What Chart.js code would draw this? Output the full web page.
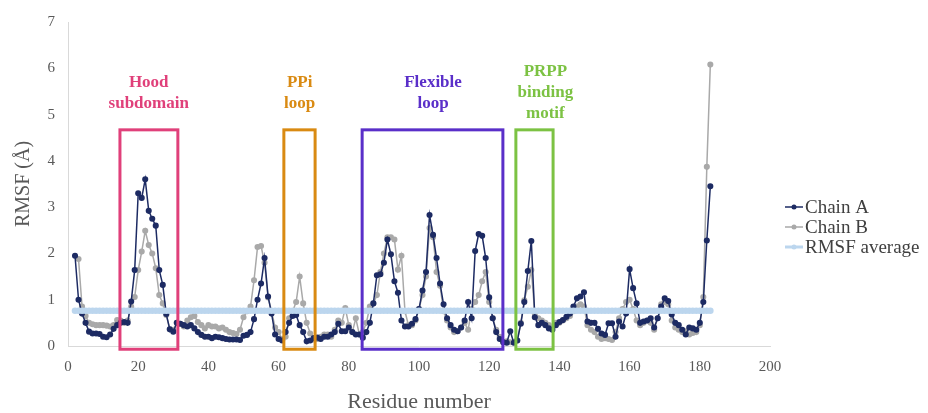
<!DOCTYPE html>
<html>
<head>
<meta charset="utf-8">
<script src="https://cdn.jsdelivr.net/npm/chart.js@4.4.1/dist/chart.umd.min.js"></script>
<style>
  html, body { margin: 0; padding: 0; background: #fff; }
</style>
</head>
<body>
<canvas id="rmsf" width="928" height="413"></canvas>
<script>
// residue numbering of the first value in each chain array
const firstResidue = 2;

// RMSF (Å) per residue, residues 2..183
const chainA = [
  1.95, 1.0, 0.7, 0.5, 0.31, 0.27, 0.27, 0.26, 0.2, 0.19,
  0.25, 0.37, 0.45, 0.5, 0.52, 0.5, 0.96, 1.64, 3.3, 3.2,
  3.6, 2.92, 2.75, 2.6, 1.64, 1.32, 0.69, 0.36, 0.31, 0.5,
  0.48, 0.45, 0.42, 0.45, 0.38, 0.3, 0.24, 0.2, 0.2, 0.17,
  0.2, 0.19, 0.17, 0.15, 0.14, 0.14, 0.14, 0.13, 0.22, 0.24,
  0.3, 0.58, 1.0, 1.35, 1.9, 1.07, 0.7, 0.25, 0.15, 0.12,
  0.3, 0.5, 0.65, 0.67, 0.45, 0.3, 0.1, 0.12, 0.17, 0.18,
  0.15, 0.2, 0.2, 0.25, 0.3, 0.48, 0.32, 0.32, 0.4, 0.3,
  0.25, 0.25, 0.18, 0.3, 0.5, 0.92, 1.53, 1.55, 1.8, 2.3,
  1.98, 1.4, 1.15, 0.55, 0.42, 0.42, 0.48, 0.58, 0.8, 1.2,
  1.6, 2.83, 2.4, 1.9, 1.35, 0.9, 0.6, 0.45, 0.35, 0.32,
  0.4, 0.55, 0.95, 0.6, 2.05, 2.42, 2.38, 1.9, 1.05, 0.6,
  0.3, 0.15, 0.08, 0.07, 0.32, 0.07, 0.12, 0.48, 0.95, 1.62,
  2.27, 0.62, 0.45, 0.5, 0.45, 0.38, 0.35, 0.45, 0.52, 0.56,
  0.63, 0.7, 0.85, 1.03, 1.07, 1.16, 0.53, 0.5, 0.5, 0.37,
  0.27, 0.24, 0.49, 0.49, 0.2, 0.53, 0.42, 0.7, 1.66, 1.25,
  0.92, 0.5, 0.53, 0.55, 0.6, 0.4, 0.6, 0.85, 1.03, 0.97,
  0.68, 0.5, 0.45, 0.35, 0.25, 0.4, 0.38, 0.35, 0.5, 0.95,
  2.28, 3.45
];

const chainB = [
  null, 1.88, 0.85, 0.65, 0.5, 0.47, 0.45, 0.45, 0.45, 0.44,
  0.42, 0.45, 0.56, 0.55, 0.5, 0.55, 0.85, 1.06, 1.64, 2.04,
  2.49, 2.18, 2.0, 1.68, 1.1, 0.92, 0.67, 0.36, 0.35, 0.5,
  0.48, 0.42, 0.55, 0.62, 0.65, 0.52, 0.45, 0.38, 0.45, 0.42,
  0.42, 0.38, 0.4, 0.35, 0.3, 0.28, 0.26, 0.35, 0.62, 0.75,
  0.85, 1.42, 2.14, 2.16, 1.8, 1.05, 0.75, 0.4, 0.3, 0.15,
  0.2, 0.6, 0.75, 0.95, 1.5, 0.92, 0.5, 0.27, 0.14, 0.15,
  0.2, 0.25, 0.25, 0.2, 0.35, 0.55, 0.5, 0.82, 0.45, 0.3,
  0.6, 0.25, 0.3, 0.5, 0.85, 0.92, 1.1, 1.6, 2.0, 2.35,
  2.35, 2.3, 1.65, 1.95, 0.75, 0.45, 0.45, 0.55, 0.8, 1.1,
  1.5, 2.55, 2.35, 1.6, 1.3, 0.75, 0.55, 0.4, 0.3, 0.32,
  0.4, 0.5, 0.35, 0.8, 0.95, 1.1, 1.4, 1.6, 0.95, 0.6,
  0.35, 0.2, 0.08, 0.1, 0.08, 0.08, 0.12, 0.5, 0.99, 1.28,
  1.64, 0.7, 0.6, 0.55, 0.5, 0.45, 0.4, 0.5, 0.5, 0.55,
  0.6, 0.65, 0.75, 0.85, 0.9, 0.85, 0.45, 0.35, 0.3, 0.2,
  0.15, 0.17, 0.15, 0.13, 0.3, 0.6, 0.8, 0.95, 1.0, 0.8,
  0.55, 0.45, 0.5, 0.55, 0.5, 0.35, 0.6, 0.9, 0.95, 0.9,
  0.55, 0.4, 0.35, 0.3, 0.32, 0.25, 0.28, 0.3, 0.45, 1.06,
  3.87, 6.08
];

const rmsfAverage = 0.76;

// highlighted regions (residue ranges) and their captions
const regionLabels = [['Hood', 'subdomain'], ['PPi', 'loop'], ['Flexible', 'loop'], ['PRPP', 'binding', 'motif']];
const regionStart = [14.8, 61.5, 83.8, 127.6];
const regionEnd = [31.3, 70.4, 123.9, 138.2];
const regionTop = 4.67;

const regionColors = ['#e0407a', '#d98a12', '#5a2fc9', '#7cc243'];
const captionX = [23, 66, 104, 136];
const captionY = [5.70, 5.70, 5.70, 5.92];

const serif = '"Liberation Serif", "Times New Roman", serif';

const toPoints = arr => arr.map((v, i) => ({ x: firstResidue + i, y: v }));

const regionsPlugin = {
  id: 'regions',
  afterDatasetsDraw(chart) {
    const { ctx, scales: { x, y } } = chart;
    ctx.save();
    ctx.lineWidth = 3;
    regionStart.forEach((start, i) => {
      const left = x.getPixelForValue(start);
      const right = x.getPixelForValue(regionEnd[i]);
      const top = y.getPixelForValue(regionTop);
      const bottom = y.getPixelForValue(-0.07);
      ctx.strokeStyle = regionColors[i];
      ctx.strokeRect(left, top, right - left, bottom - top);

      ctx.fillStyle = regionColors[i];
      ctx.font = 'bold 17px ' + serif;
      ctx.textAlign = 'center';
      ctx.textBaseline = 'middle';
      const cx = x.getPixelForValue(captionX[i]);
      const cy = y.getPixelForValue(captionY[i]);
      regionLabels[i].forEach((line, j) => ctx.fillText(line, cx, cy + j * 21));
    });
    ctx.restore();
  }
};

const legendPlugin = {
  id: 'sideLegend',
  afterDraw(chart) {
    const { ctx } = chart;
    ctx.save();
    chart.data.datasets.forEach((ds, i) => {
      const yc = 207 + i * 20;
      ctx.strokeStyle = ds.borderColor;
      ctx.lineWidth = ds.borderWidth;
      ctx.beginPath();
      ctx.moveTo(785, yc);
      ctx.lineTo(803, yc);
      ctx.stroke();
      ctx.fillStyle = ds.pointBackgroundColor;
      ctx.beginPath();
      ctx.arc(794, yc, 2.5, 0, Math.PI * 2);
      ctx.fill();
      ctx.fillStyle = '#404040';
      ctx.font = '19px ' + serif;
      ctx.textAlign = 'left';
      ctx.textBaseline = 'middle';
      ctx.fillText(ds.label, 805, yc + 1);
    });
    ctx.restore();
  }
};

new Chart(document.getElementById('rmsf'), {
  type: 'line',
  data: {
    datasets: [
      {
        label: 'Chain A',
        data: toPoints(chainA),
        borderColor: '#1d2b63',
        pointBackgroundColor: '#1d2b63',
        pointBorderColor: '#1d2b63',
        borderWidth: 1.5,
        pointRadius: 2.3,
        order: 1,
      },
      {
        label: 'Chain B',
        data: toPoints(chainB),
        borderColor: '#a9a9a9',
        pointBackgroundColor: '#a9a9a9',
        pointBorderColor: '#a9a9a9',
        borderWidth: 1.5,
        pointRadius: 2.3,
        order: 2,
      },
      {
        label: 'RMSF average',
        data: toPoints(chainA.map(() => rmsfAverage)),
        borderColor: '#bcd6ee',
        pointBackgroundColor: '#bcd6ee',
        pointBorderColor: '#bcd6ee',
        borderWidth: 3,
        pointRadius: 1.8,
        order: 0,
      },
    ],
  },
  options: {
    responsive: false,
    animation: false,
    layout: { padding: { top: 22, right: 158, bottom: 0, left: 0 } },
    plugins: {
      legend: { display: false },
      tooltip: { enabled: false },
    },
    scales: {
      x: {
        type: 'linear',
        min: 0,
        max: 200,
        ticks: { stepSize: 20, color: '#595959', padding: 12, font: { family: serif, size: 15 } },
        grid: { display: false, drawTicks: false },
        border: { color: '#d9d9d9', width: 1 },
        title: {
          display: true,
          text: 'Residue number',
          color: '#595959',
          font: { family: serif, size: 22, lineHeight: 1 },
          padding: { top: 0, bottom: 0 },
        },
        afterFit(scale) { scale.height = 67; },
      },
      y: {
        min: 0,
        max: 7,
        ticks: { stepSize: 1, color: '#595959', padding: 13, font: { family: serif, size: 15 } },
        grid: { display: false, drawTicks: false },
        border: { color: '#d9d9d9', width: 1 },
        title: {
          display: true,
          text: 'RMSF (Å)',
          color: '#595959',
          font: { family: serif, size: 20, lineHeight: 1.2 },
          padding: { top: 12, bottom: 0 },
        },
        afterFit(scale) { scale.width = 68; },
      },
    },
  },
  plugins: [regionsPlugin, legendPlugin],
});
</script>
</body>
</html>
